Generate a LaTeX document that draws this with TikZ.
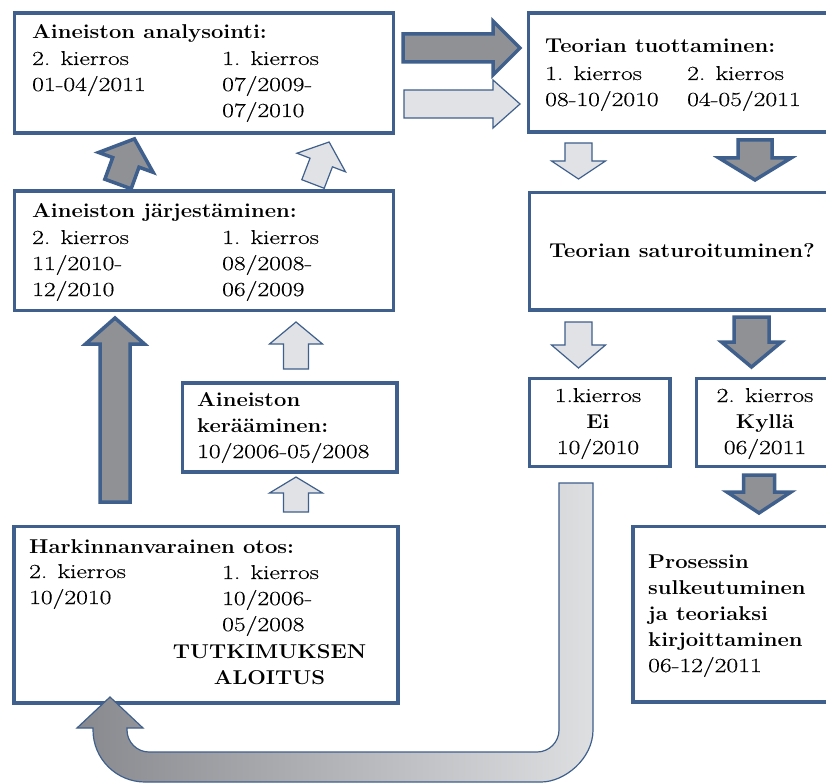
\documentclass[tikz,border=0pt]{standalone}
\usepackage{fontspec}
\setmainfont{Latin Modern Roman}[UprightFeatures={FakeStretch=1.28, FakeBold=0.4}, BoldFeatures={FakeStretch=1.10}]
\definecolor{frameblue}{RGB}{63,95,140}
\definecolor{darkfill}{RGB}{143,145,149}
\definecolor{lightfill}{RGB}{224,226,229}
\definecolor{ushadeleft}{RGB}{135,137,142}
\definecolor{ushaderight}{RGB}{222,223,225}

% block arrow: style, tail point, direction, length, shaft half-width, head half-width, head length
\newcommand{\blockarrow}[7]{%
  \path[#1, shift={#2}, rotate=#3]
    (0,-#5) -- ({#4-#7},-#5) -- ({#4-#7},-#6) -- (#4,0) -- ({#4-#7},#6)
    -- ({#4-#7},#5) -- (0,#5) -- cycle;}

\tikzset{
  frame/.style={draw=frameblue, line width=3.5pt, fill=white, inner sep=0pt, anchor=north west},
  txt/.style={inner sep=0pt, anchor=base west, align=left},
  ctxt/.style={inner sep=0pt, anchor=base, align=center},
  darkarrow/.style={draw=frameblue, line width=3.5pt, fill=darkfill, line join=miter},
  lightarrow/.style={draw=frameblue, line width=1.2pt, fill=lightfill, line join=miter},
  uarrow/.style={draw=frameblue, line width=1.2pt, left color=ushadeleft, right color=ushaderight},
  every node/.style={font=\fontsize{20pt}{26pt}\selectfont},
}

\begin{document}
\begin{tikzpicture}[x=1pt, y=-1pt]
\clip (0,0) rectangle (826,783);
\fill[white] (0,0) rectangle (826,783);

% boxes
\node[frame, minimum width=379pt, minimum height=120pt] (analysis) at (12.5,11.5) {};
\node[frame, minimum width=400pt, minimum height=119pt] (theory) at (526.5,11.5) {};
\node[frame, minimum width=379pt, minimum height=119pt] (ordering) at (12.5,189.5) {};
\node[frame, minimum width=214.5pt, minimum height=89pt] (collect) at (180.5,381) {};
\node[frame, minimum width=384pt, minimum height=176.5pt] (sample) at (12,524.5) {};
\node[frame, minimum width=400pt, minimum height=117pt] (saturation) at (527.5,191) {};
\node[frame, minimum width=140.5pt, minimum height=88pt] (roundone) at (527.5,376.5) {};
\node[frame, minimum width=300pt, minimum height=88pt] (roundtwo) at (694.5,376.5) {};
\node[frame, minimum width=300pt, minimum height=175.5pt] (closing) at (631,524.5) {};

% texts (multi-line nodes are placed by the baseline of their last line)
\node[txt] (analysis-title) at (32,39) {\textbf{Aineiston analysointi:}};
\node[txt] (analysis-left) at (32,91) {2. kierros\\01-04/2011};
\node[txt] (analysis-right) at (222,117) {1. kierros\\07/2009-\\07/2010};

\node[txt] (theory-title) at (545,53) {\textbf{Teorian tuottaminen:}};
\node[txt] (theory-left) at (545,106) {1. kierros\\08-10/2010};
\node[txt] (theory-right) at (687,106) {2. kierros\\04-05/2011};

\node[txt] (ordering-title) at (32,218) {\textbf{Aineiston järjestäminen:}};
\node[txt] (ordering-left) at (32,296) {2. kierros\\11/2010-\\12/2010};
\node[txt] (ordering-right) at (222,296) {1. kierros\\08/2008-\\06/2009};

\node[txt] (collect-text) at (197,458) {\textbf{Aineiston}\\\textbf{kerääminen:}\\10/2006-05/2008};

\node[txt] (sample-title) at (29,553) {\textbf{Harkinnanvarainen otos:}};
\node[txt] (sample-left) at (29,604) {2. kierros\\10/2010};
\node[txt] (sample-right) at (222,631) {1. kierros\\10/2006-\\05/2008};
\node[ctxt] (sample-start) at (269.5,684) {\textbf{TUTKIMUKSEN}\\\textbf{ALOITUS}};

\node[ctxt] (saturation-text) at (682,258) {\textbf{Teorian saturoituminen?}};
\node[ctxt] (roundone-text) at (598,454) {1.kierros\\\textbf{Ei}\\10/2010};
\node[ctxt] (roundtwo-text) at (765,454) {2. kierros\\\textbf{Kyllä}\\06/2011};
\node[txt] (closing-text) at (648,672) {\textbf{Prosessin}\\\textbf{sulkeutuminen}\\\textbf{ja teoriaksi}\\\textbf{kirjoittaminen}\\06-12/2011};

% block arrows
\blockarrow{darkarrow}{(403,48)}{0}{117}{14}{27}{27}
\blockarrow{lightarrow}{(404,104)}{0}{116}{14}{24}{27}
\blockarrow{darkarrow}{(118,184)}{70}{48}{14}{29}{25}
\blockarrow{lightarrow}{(313,184)}{69}{45}{12}{26}{22}
\blockarrow{darkarrow}{(115,502)}{90}{184}{15}{29.5}{26}
\blockarrow{lightarrow}{(296,369)}{90}{47}{12.5}{26.5}{22}
\blockarrow{lightarrow}{(296,512)}{90}{35}{12.5}{26.5}{16}
\blockarrow{lightarrow}{(578.5,143)}{-90}{36}{13.5}{27}{18}
\blockarrow{darkarrow}{(755,140)}{-90}{40}{17}{36}{22}
\blockarrow{lightarrow}{(578.5,322)}{-90}{46}{13.5}{27}{23}
\blockarrow{darkarrow}{(751.5,317)}{-90}{50}{17.5}{30}{25}
\blockarrow{darkarrow}{(759,475)}{-90}{38}{15.5}{32}{21}

% return arrow from the first round back to the sample
\path[uarrow] (559,483) -- (593,483) -- (593,730)
  .. controls (593,758.7) and (564.7,782) .. (541,782)
  -- (145,782) .. controls (116.3,782) and (93,758.7) .. (93,730)
  -- (93,728) -- (77,728) -- (110,697) -- (143,728) -- (127,728) -- (127,730)
  .. controls (127,742.1) and (136.9,752) .. (149,752)
  -- (537,752) .. controls (549.1,752) and (559,742.1) .. (559,730)
  -- cycle;
\end{tikzpicture}
\end{document}
